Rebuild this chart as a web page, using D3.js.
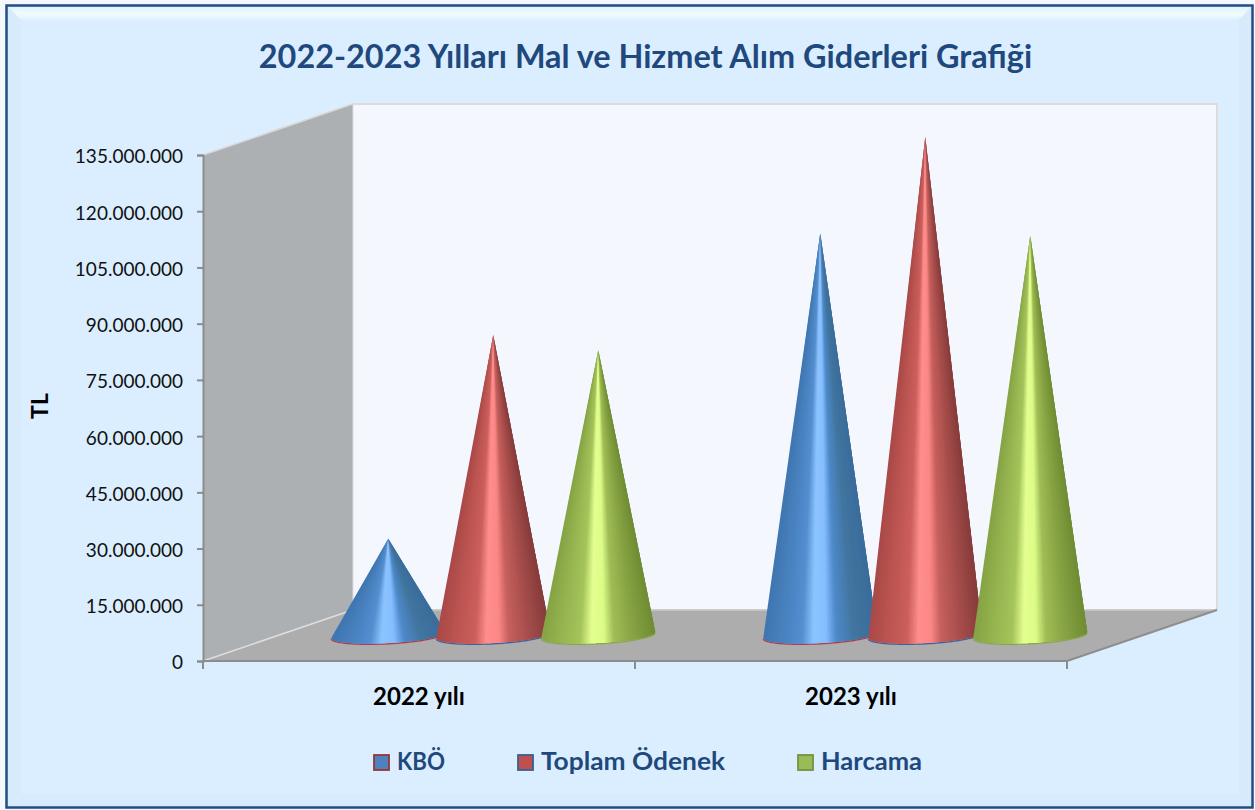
<!DOCTYPE html>
<html><head><meta charset="utf-8">
<style>html,body{margin:0;padding:0;background:#f4f8fd}svg{display:block}text{font-family:Lato,"Open Sans",sans-serif}</style>
<script src="https://cdn.jsdelivr.net/npm/d3@7/dist/d3.min.js"></script>
</head><body><svg id="c" width="1255" height="810"></svg>
<script>
const titleText = "2022-2023 Yılları Mal ve Hizmet Alım Giderleri Grafiği";
const axisTitle = "TL";
const categories = ["2022 yılı", "2023 yılı"];
const seriesNames = ["KBÖ", "Toplam Ödenek", "Harcama"];
const kboValues = [25800000, 107300000];
const toplamValues = [80200000, 133000000];
const harcamaValues = [76200000, 106700000];
const tickValues = [0,15e6,30e6,45e6,60e6,75e6,90e6,105e6,120e6,135e6];
const gradPos = [0,0.18,0.34,0.44,0.55,0.64,0.8,1];
const blueRamp = ["#3f76b0","#4a82c0","#558fd0","#8cc4ff","#86beff","#4f8aca","#41759f","#3a6c9c"];
const redRamp = ["#a94a48","#bd5552","#cc5f5c","#ff8e8c","#fb8886","#c6605d","#a84f4d","#863b3a"];
const greenRamp = ["#86a344","#97b551","#a5c45b","#e4ff90","#dcfb88","#a0bd56","#88a444","#6f8c33"];
const ramps = [blueRamp, redRamp, greenRamp];
const edgeColors = ["#b03a4e","#3f5f9f","#8aa64a"];
const swatchFill = ["#4f81bd","#c0504d","#9bbb59"];
const swatchStroke = ["#953735","#366092","#76923c"];
const series = [kboValues, toplamValues, harcamaValues];

const svg = d3.select("#c");
const plot={l:203,r:1067,b:661,t:155,dx:149.5,dy:51};
const y=d3.scaleLinear().domain([0,135e6]).range([plot.b,plot.t]);
const x=d3.scaleBand().domain(categories).range([plot.l,plot.r]);
const sx=d3.scalePoint().domain(seriesNames).range([-105,105]);
const loc=d3.formatLocale({decimal:",",thousands:".",grouping:[3],currency:["",""]});

const defs=svg.append("defs");
defs.append("filter").attr("id","soft").attr("x","-5%").attr("y","-5%").attr("width","110%").attr("height","110%")
  .append("feGaussianBlur").attr("stdDeviation",0.45);
const bev=defs.append("linearGradient").attr("id","bev").attr("x1",0).attr("y1",0).attr("x2",0).attr("y2",1);
bev.append("stop").attr("offset",0).attr("stop-color","#e3f3ff");
bev.append("stop").attr("offset",0.6).attr("stop-color","#effbff");
bev.append("stop").attr("offset",1).attr("stop-color","#dff1ff");

// frame
svg.append("rect").attr("x",6.5).attr("y",5.5).attr("width",1246).attr("height",802)
  .attr("fill","#dbeeff").attr("stroke","#1f4e85").attr("stroke-width",2.5);
svg.append("polygon").attr("points","8,7 1251,7 1239,20 21,20").attr("fill","url(#bev)");
svg.append("polygon").attr("points","8,7 21,20 21,794 8,806").attr("fill","#d8ebfc");
svg.append("polygon").attr("points","1251,7 1239,20 1239,794 1251,806").attr("fill","#d7eafb");
svg.append("polygon").attr("points","8,806 21,794 1239,794 1251,806").attr("fill","#d8ebfc");

// title
svg.append("text").attr("x",645.5).attr("y",68).attr("text-anchor","middle")
  .attr("font-size",32.4).attr("font-weight",700).attr("fill","#1f497d").text(titleText);

// walls
const gx=plot.dx,gy=plot.dy;
svg.append("polygon").attr("points",[[plot.l+gx,plot.t-gy],[plot.r+gx+0.5,plot.t-gy],[plot.r+gx+0.5,plot.b-gy],[plot.l+gx,plot.b-gy]].join(" "))
  .attr("fill","#f4f8fe").attr("stroke","#dcdcdc").attr("stroke-width",2);
svg.append("polygon").attr("points",[[plot.l,plot.t],[plot.l+gx,plot.t-gy],[plot.l+gx,plot.b-gy],[plot.l,plot.b]].join(" "))
  .attr("fill","#adb0b3");
svg.append("line").attr("x1",plot.l).attr("y1",plot.t).attr("x2",plot.l+gx).attr("y2",plot.t-gy).attr("stroke","#d8d8d8").attr("stroke-width",1.5);
svg.append("polygon").attr("points",[[plot.l,plot.b],[plot.l+gx,plot.b-gy],[plot.r+gx+0.5,plot.b-gy],[plot.r,plot.b]].join(" "))
  .attr("fill","#adadad");
svg.append("line").attr("x1",plot.l+gx).attr("y1",plot.b-gy).attr("x2",plot.r+gx).attr("y2",plot.b-gy).attr("stroke","#c8c8c8").attr("stroke-width",1.5);
svg.append("line").attr("x1",plot.l).attr("y1",plot.b).attr("x2",plot.l+gx).attr("y2",plot.b-gy).attr("stroke","#dedede").attr("stroke-width",1.5);
svg.append("line").attr("x1",plot.r).attr("y1",plot.b).attr("x2",plot.r+gx+0.5).attr("y2",plot.b-gy).attr("stroke","#8e8e8e").attr("stroke-width",2);

// axes
const axL=svg.append("g").attr("transform",`translate(${plot.l},0)`)
  .call(d3.axisLeft(y).tickValues(tickValues).tickFormat(loc.format(",d")).tickSize(6).tickPadding(14));
axL.selectAll("text").attr("font-size",19).attr("fill","#111").attr("dy","0.42em");
axL.selectAll("line,path").attr("stroke","#8c8c8c").attr("stroke-width",2);
const tickX=[...categories.map(c=>x(c)),plot.r];
const axB=svg.append("g");
axB.append("line").attr("x1",plot.l).attr("x2",plot.r).attr("y1",plot.b).attr("y2",plot.b).attr("stroke","#8c8c8c").attr("stroke-width",2);
axB.selectAll("line.t").data(tickX).join("line").attr("class","t").attr("x1",d=>d).attr("x2",d=>d)
  .attr("y1",plot.b).attr("y2",plot.b+8).attr("stroke","#8c8c8c").attr("stroke-width",2);
axB.selectAll("text").data(categories).join("text").attr("x",d=>x(d)+x.bandwidth()/2).attr("y",705)
  .attr("text-anchor","middle").attr("font-size",24).attr("font-weight",700).attr("fill","#000").text(d=>d);
svg.append("text").attr("transform","translate(48,406) rotate(-90)").attr("text-anchor","middle")
  .attr("font-size",23).attr("font-weight",700).attr("fill","#000").text(axisTitle);

// cones
const depthX=plot.dx/2-1, depthY=25.5;
const rx=57, ry=8, tilt=3;
const N=80;
const sliceIdx=d3.range(N);
const lineGen=d3.line();
function basePt(cx,cy,t){return [cx+rx*Math.cos(t), cy+ry*Math.sin(t)-tilt*Math.cos(t)];}
const tAt=f=>Math.acos(1-2*f);
categories.forEach((cat,ci)=>{
  seriesNames.forEach((name,si)=>{
    const cx=x(cat)+x.bandwidth()/2+sx(name)+depthX+0.5;
    const cy=plot.b-depthY-0.5;
    const tipY=y(series[si][ci])-depthY;
    const color=d3.scaleLinear().domain(gradPos).range(ramps[si]).interpolate(d3.interpolateRgb);
    const g=svg.append("g").attr("class","cone").attr("filter","url(#soft)");
    const rim=d3.range(0,41).map(i=>basePt(cx,cy+0.8,Math.PI-Math.PI*i/40));
    g.append("path").attr("d",lineGen(rim)).attr("fill","none").attr("stroke",edgeColors[si]).attr("stroke-width",1.3);
    // each wedge runs from the apex to a base arc and overlaps the next one, so no seams show
    g.selectAll("path.s").data(sliceIdx).join("path").attr("class","s")
      .attr("d",i=>{
        const f0=i/N,f1=Math.min(1,(i+3)/N);
        const arc=d3.range(0,4).map(k=>basePt(cx,cy,Math.PI-tAt(f0+(f1-f0)*k/3)));
        return lineGen([[cx,tipY],...arc])+"Z";
      })
      .attr("fill",i=>color((i+.5)/N));
  });
});

// legend
const lg=svg.append("g");
const legendLayout=[{sw:374,tx:397,w:48},{sw:518,tx:541,w:184},{sw:798,tx:821,w:101}];
seriesNames.forEach((n,i)=>{
  const L=legendLayout[i];
  lg.append("rect").attr("x",L.sw).attr("y",755).attr("width",15).attr("height",15)
    .attr("fill",swatchFill[i]).attr("stroke",swatchStroke[i]).attr("stroke-width",1.8);
  lg.append("text").attr("x",L.tx).attr("y",770).attr("font-size",25).attr("font-weight",700)
    .attr("textLength",L.w).attr("lengthAdjust","spacingAndGlyphs")
    .attr("fill","#1f497d").text(n);
});
</script></body></html>
